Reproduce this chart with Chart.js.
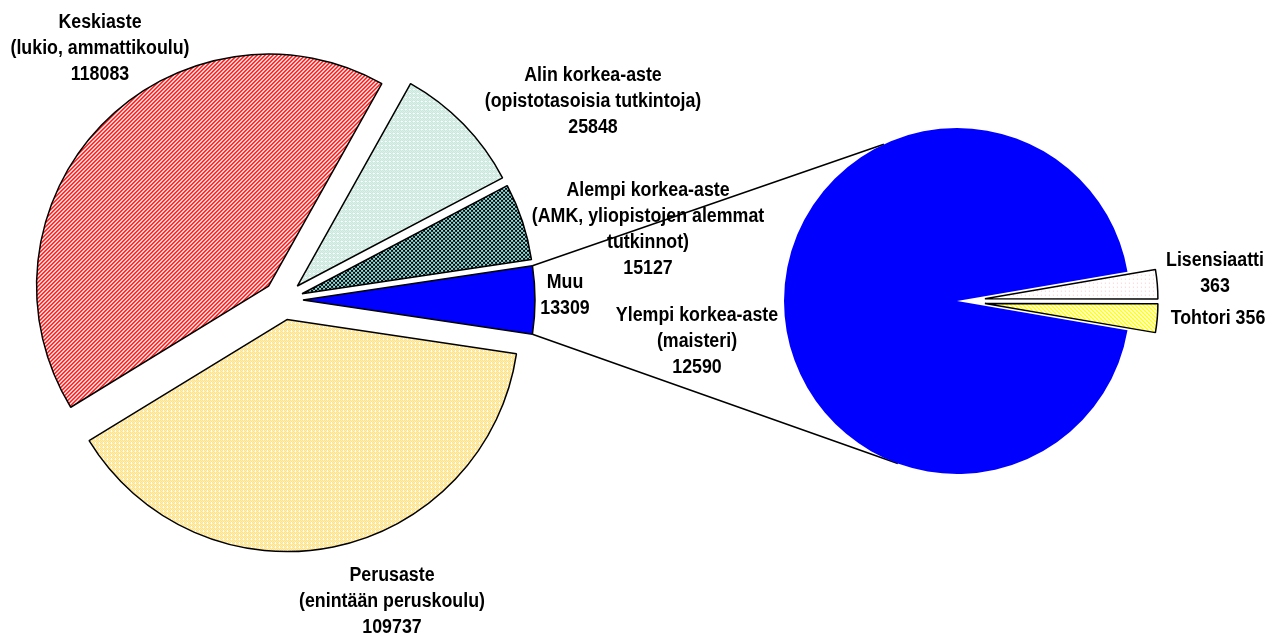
<!DOCTYPE html>
<html><head><meta charset="utf-8">
<script src="https://cdn.jsdelivr.net/npm/chart.js@4.4.1/dist/chart.umd.min.js"></script>
<style>
html,body{margin:0;padding:0;background:#fff;width:1282px;height:637px;overflow:hidden}
canvas{position:absolute;left:0;top:0}
</style></head><body>
<canvas id="c1" width="1282" height="637"></canvas>
<canvas id="c2" width="1282" height="637"></canvas>
<script>
// ---- data ----
const mainCategories = ['Muu', 'Perusaste', 'Keskiaste', 'Alin korkea-aste', 'Alempi korkea-aste'];
const mainSubtitles = [[], ['(enintään peruskoulu)'], ['(lukio, ammattikoulu)'], ['(opistotasoisia tutkintoja)'], ['(AMK, yliopistojen alemmat', 'tutkinnot)']];
const mainValues = [13309, 109737, 118083, 25848, 15127];
const subCategories = ['Lisensiaatti', 'Tohtori', 'Ylempi korkea-aste'];
const subSubtitles = [[], [], ['(maisteri)']];
const subValues = [363, 356, 12590];
const subValueInline = [false, true, false];

// ---- styling / layout ----
const FONT = 'bold 20px "Liberation Sans", Arial, sans-serif';
const FONT_SX = 0.89;
const LINE_H = 26;
const mainCenter = {x: 283, y: 300}, mainRadius = 232;
const subCenter = {x: 957, y: 301}, subRadius = 173;
const mainExplode = [20, 20, 20, 20, 20];
const subExplode = [28, 28, 0];
const mainLabelPos = [[282, -5], [109, 301], [-183, -252], [310, -199], [365, -71]];
const subLabelPos = [[258, -28], [261, 17], [-260, 40]];

function pattern(w, h, fn) {
  const c = document.createElement('canvas'); c.width = w; c.height = h;
  const x = c.getContext('2d'); fn(x); return x.createPattern(c, 'repeat');
}
function px(x, col, pts) { x.fillStyle = col; pts.forEach(p => x.fillRect(p[0], p[1], 1, 1)); }
const pRed = pattern(4, 4, x => { x.fillStyle = '#fff'; x.fillRect(0,0,4,4);
  const pts = []; for (let y = 0; y < 4; y++) { pts.push([(3 - y + 4) % 4, y]); pts.push([(4 - y + 4) % 4, y]); } px(x, '#ff0000', pts); });
const pMint = pattern(4, 4, x => { x.fillStyle = '#fff'; x.fillRect(0,0,4,4);
  px(x, '#a6d8c8', [[0,0],[2,0],[1,1],[3,1],[0,2],[2,2],[1,3]]); });
const pCheck = pattern(4, 4, x => { x.fillStyle = '#8ee0e0'; x.fillRect(0,0,4,4); x.fillStyle = '#000'; x.fillRect(0,0,2,2); x.fillRect(2,2,2,2); });
const pYellow = pattern(4, 4, x => { x.fillStyle = '#fff'; x.fillRect(0,0,4,4);
  px(x, '#ffd23c', [[0,0],[2,0],[1,1],[3,1],[0,2],[2,2],[1,3]]); });
const pPink = pattern(4, 4, x => { x.fillStyle = '#fff'; x.fillRect(0,0,4,4); px(x, '#ffc8c8', [[1,1]]); });
const pYStripe = pattern(4, 4, x => { x.fillStyle = '#fff'; x.fillRect(0,0,4,4);
  const pts = []; for (let y = 0; y < 4; y++) { pts.push([y % 4, y]); pts.push([(y + 1) % 4, y]); } px(x, '#ffff00', pts); });

const mainColors = ['#0000ff', pYellow, pRed, pMint, pCheck];
const subColors = [pPink, pYStripe, '#0000ff'];

function sum(a) { return a.reduce((s, v) => s + v, 0); }
const mainRotation = 90 - (mainValues[0] / sum(mainValues) * 360) / 2;
const subRotation = 90 - ((subValues[0] + subValues[1]) / sum(subValues) * 360) / 2;

// explode slices: translate, then let each library arc element draw itself
function explodePlugin(amounts) {
  return {
    id: 'explode',
    beforeDatasetDraw(chart, args) {
      const ctx = chart.ctx; const meta = args.meta;
      meta.data.forEach((el, i) => {
        const mid = (el.startAngle + el.endAngle) / 2;
        ctx.save();
        ctx.translate(Math.cos(mid) * amounts[i], Math.sin(mid) * amounts[i]);
        el.draw(ctx, chart.chartArea);
        ctx.restore();
      });
      return false;
    }
  };
}
function labelPlugin(linesFor, pos) {
  return {
    id: 'lbl',
    afterDraw(chart) {
      const ctx = chart.ctx; const meta = chart.getDatasetMeta(0);
      const cx = meta.data[0].x, cy = meta.data[0].y;
      ctx.save(); ctx.font = FONT; ctx.fillStyle = '#000'; ctx.textAlign = 'center'; ctx.textBaseline = 'middle';
      meta.data.forEach((el, i) => {
        const lines = linesFor(i);
        const bx = cx + pos[i][0], by = cy + pos[i][1] - (lines.length - 1) * LINE_H / 2;
        lines.forEach((t, k) => {
          ctx.save(); ctx.translate(bx, by + k * LINE_H); ctx.scale(FONT_SX, 1);
          ctx.fillText(t, 0, 0); ctx.restore();
        });
      });
      ctx.restore();
    }
  };
}
const common = {
  responsive: false, animation: false, events: [],
  plugins: { legend: { display: false }, tooltip: { enabled: false } }
};
function pad(c) { const h = 250; return { left: c.x - h, top: c.y - h, right: 1282 - c.x - h, bottom: 637 - c.y - h }; }

const left = new Chart(document.getElementById('c1'), {
  type: 'pie',
  data: { labels: mainCategories, datasets: [{ data: mainValues, backgroundColor: mainColors,
    borderColor: '#000', borderWidth: 1.5 }] },
  options: Object.assign({}, common, { rotation: mainRotation, radius: mainRadius, layout: { padding: pad(mainCenter) } }),
  plugins: [explodePlugin(mainExplode), labelPlugin(i => [mainCategories[i], ...mainSubtitles[i], String(mainValues[i])], mainLabelPos)]
});

const connector = {
  id: 'conn',
  beforeDatasetsDraw(chart) {
    const m = left.getDatasetMeta(0).data[0];
    const mid = (m.startAngle + m.endAngle) / 2; const off = mainExplode[0];
    const ox = m.x + Math.cos(mid) * off, oy = m.y + Math.sin(mid) * off;
    const r = m.outerRadius;
    const s = chart.getDatasetMeta(0).data[2];
    const a1 = -115 * Math.PI / 180, a2 = 110 * Math.PI / 180;
    const ctx = chart.ctx; ctx.save(); ctx.strokeStyle = '#000'; ctx.lineWidth = 1.5;
    ctx.beginPath();
    ctx.moveTo(ox + Math.cos(m.startAngle) * r, oy + Math.sin(m.startAngle) * r);
    ctx.lineTo(s.x + Math.cos(a1) * s.outerRadius, s.y + Math.sin(a1) * s.outerRadius);
    ctx.moveTo(ox + Math.cos(m.endAngle) * r, oy + Math.sin(m.endAngle) * r);
    ctx.lineTo(s.x + Math.cos(a2) * s.outerRadius, s.y + Math.sin(a2) * s.outerRadius);
    ctx.stroke(); ctx.restore();
  }
};

const right = new Chart(document.getElementById('c2'), {
  type: 'pie',
  data: { labels: subCategories, datasets: [{ data: subValues, backgroundColor: subColors,
    borderColor: '#000', borderWidth: [1.5, 1.5, 0] }] },
  options: Object.assign({}, common, { rotation: subRotation, radius: subRadius, layout: { padding: pad(subCenter) } }),
  plugins: [connector, explodePlugin(subExplode), labelPlugin(i => subValueInline[i] ? [subCategories[i] + ' ' + subValues[i]] : [subCategories[i], ...subSubtitles[i], String(subValues[i])], subLabelPos)]
});
</script>
</body></html>
